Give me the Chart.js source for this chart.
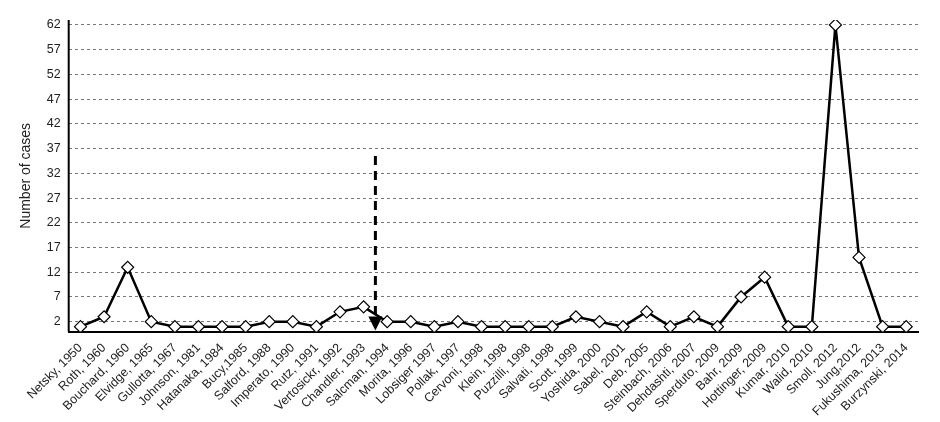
<!DOCTYPE html>
<html>
<head>
<meta charset="utf-8">
<script src="https://cdn.jsdelivr.net/npm/chart.js@4/dist/chart.umd.min.js"></script>
<style>
  body { margin: 0; background: #fff; }
  #wrap { width: 940px; height: 422px; }
</style>
</head>
<body>
<div id="wrap"><canvas id="chart"></canvas></div>
<script>
const categories = ['Netsky, 1950', 'Roth, 1960', 'Bouchard, 1960', 'Elvidge, 1965', 'Gullotta, 1967',
  'Johnson, 1981', 'Hatanaka, 1984', 'Bucy,1985', 'Salford, 1988', 'Imperato, 1990', 'Rutz, 1991',
  'Vertosickr, 1992', 'Chandler, 1993', 'Salcman, 1994', 'Morita, 1996', 'Lobsiger 1997', 'Pollak, 1997',
  'Cervoni, 1998', 'Klein, 1998', 'Puzzilli, 1998', 'Salvati, 1998', 'Scott, 1999', 'Yoshida, 2000',
  'Sabel, 2001', 'Deb, 2005', 'Steinbach, 2006', 'Dehdashti, 2007', 'Sperduto, 2009', 'Bahr, 2009',
  'Hottinger, 2009', 'Kumar, 2010', 'Walid, 2010', 'Smoll, 2012', 'Jung,2012', 'Fukushima, 2013',
  'Burzynski, 2014'];
const cases = [1, 3, 13, 2, 1, 1, 1, 1, 2, 2, 1, 4, 5, 2, 2, 1, 2, 1, 1, 1, 1, 3, 2, 1, 4, 1, 3, 1,
  7, 11, 1, 1, 62, 15, 1, 1];
const yTicks = [2, 7, 12, 17, 22, 27, 32, 37, 42, 47, 52, 57, 62];
const arrowAt = 12.5;   // between Chandler and Salcman
const arrowTop = 35.5;

// dashed marker arrow + solid y axis line
const arrowPlugin = {
  id: 'arrow',
  afterDatasetsDraw(chart) {
    const ctx = chart.ctx;
    const a = chart.chartArea;
    ctx.save();
    ctx.strokeStyle = '#000';
    ctx.lineWidth = 2;
    ctx.beginPath();
    ctx.moveTo(a.left, a.top);
    ctx.lineTo(a.left, a.bottom);
    ctx.stroke();

    const x = chart.scales.x.getPixelForValue(arrowAt);
    const y0 = chart.scales.y.getPixelForValue(arrowTop);
    const y1 = chart.scales.y.getPixelForValue(0) - 1;
    ctx.lineWidth = 3;
    ctx.setLineDash([9, 6]);
    ctx.beginPath();
    ctx.moveTo(x, y0);
    ctx.lineTo(x, y1 - 10);
    ctx.stroke();
    ctx.setLineDash([]);
    ctx.fillStyle = '#000';
    ctx.beginPath();
    ctx.moveTo(x - 7, y1 - 14);
    ctx.lineTo(x + 7, y1 - 14);
    ctx.lineTo(x, y1);
    ctx.closePath();
    ctx.fill();
    ctx.restore();
  }
};

new Chart(document.getElementById('chart'), {
  type: 'line',
  data: {
    labels: categories,
    datasets: [{
      data: cases,
      borderColor: '#000',
      borderWidth: 2.5,
      pointStyle: 'rectRot',
      pointRadius: 6,
      pointBackgroundColor: '#fff',
      pointBorderColor: '#000',
      pointBorderWidth: 1.2,
      tension: 0
    }]
  },
  options: {
    responsive: true,
    maintainAspectRatio: false,
    animation: false,
    layout: { padding: { top: 20, right: 22, left: 14, bottom: 0 } },
    plugins: { legend: { display: false }, tooltip: { enabled: false } },
    scales: {
      x: {
        offset: true,
        grid: { display: false, tickLength: 6, color: '#000' },
        border: { color: '#000', width: 2 },
        ticks: { color: '#222', font: { family: 'Liberation Sans', size: 12.5 }, maxRotation: 45, minRotation: 45, autoSkip: false }
      },
      y: {
        min: 0,
        max: 63,
        afterBuildTicks(axis) { axis.ticks = yTicks.map(v => ({ value: v })); },
        grid: { color: '#777', drawTicks: false, lineWidth: 1 },
        border: { display: false, dash: [3, 3] },
        ticks: { color: '#222', padding: 8, font: { family: 'Liberation Sans', size: 12.5 } },
        title: { display: true, text: 'Number of cases', color: '#222', font: { family: 'Liberation Sans', size: 14 } }
      }
    }
  },
  plugins: [arrowPlugin]
});
</script>
</body>
</html>
